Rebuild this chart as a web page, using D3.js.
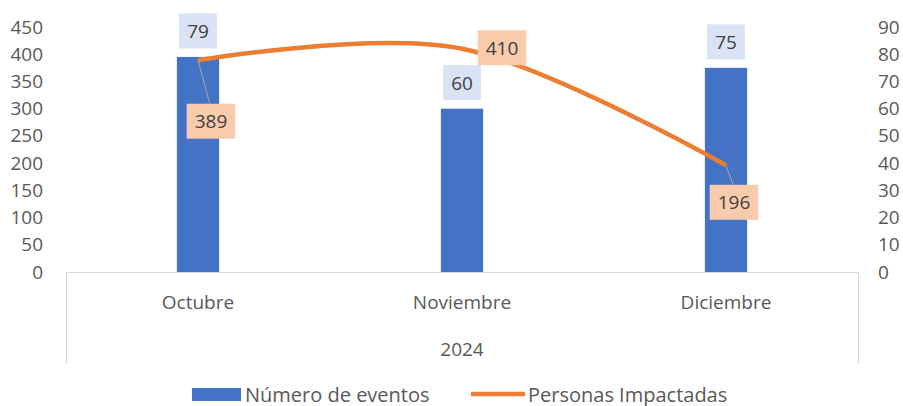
<!DOCTYPE html>
<html><head><meta charset="utf-8">
<script src="https://cdn.jsdelivr.net/npm/d3@7"></script>
<style>
html,body{margin:0;padding:0;background:#fff;}
svg{display:block;font-family:"Open Sans",sans-serif;}
</style></head>
<body><svg id="c" width="903" height="406"></svg>
<script>
const categories = ["Octubre", "Noviembre", "Diciembre"];
const groupLabel = "2024";
const eventos = [79, 60, 75];
const personas = [389, 410, 196];
const leftTicks = [0, 50, 100, 150, 200, 250, 300, 350, 400, 450];
const rightTicks = [0, 10, 20, 30, 40, 50, 60, 70, 80, 90];
const seriesNames = ["Número de eventos", "Personas Impactadas"];

const W = 903, H = 406;
const plot = {l: 66, r: 858, t: 27, b: 272};
const FS = 19;
const svg = d3.select("#c");

const x = d3.scaleBand().domain(categories).range([plot.l, plot.r]).paddingInner(0).paddingOuter(0);
const yL = d3.scaleLinear().domain([0, 450]).range([plot.b, plot.t]);
const yR = d3.scaleLinear().domain([0, 90]).range([plot.b, plot.t]);
const barW = x.bandwidth() * 0.16;
const cx = c => x(c) + x.bandwidth() / 2;

// axes
const axL = svg.append("g").attr("transform", `translate(${43},0)`)
  .call(d3.axisLeft(yL).tickValues(leftTicks).tickSize(0).tickPadding(0));
axL.select(".domain").remove();
axL.selectAll("text").attr("fill", "#595959").style("font-size", FS + "px").style("font-family", "Open Sans");

const axR = svg.append("g").attr("transform", `translate(${878},0)`)
  .call(d3.axisRight(yR).tickValues(rightTicks).tickSize(0).tickPadding(0));
axR.select(".domain").remove();
axR.selectAll("text").attr("fill", "#595959").style("font-size", FS + "px").style("font-family", "Open Sans");

// category frame
const grid = "#D9D9D9";
svg.append("line").attr("x1", plot.l).attr("x2", plot.r).attr("y1", plot.b + 0.5).attr("y2", plot.b + 0.5).attr("stroke", grid);
[plot.l, plot.r].forEach(xx => svg.append("line").attr("x1", xx + 0.5).attr("x2", xx + 0.5)
  .attr("y1", plot.b).attr("y2", 364).attr("stroke", grid));

svg.selectAll("text.cat").data(categories).join("text").attr("class", "cat")
  .attr("x", d => cx(d)).attr("y", 302).attr("text-anchor", "middle").attr("dominant-baseline", "central")
  .attr("fill", "#595959").style("font-size", FS + "px").text(d => d);
svg.append("text").attr("x", (plot.l + plot.r) / 2).attr("y", 349).attr("text-anchor", "middle")
  .attr("dominant-baseline", "central").attr("fill", "#595959").style("font-size", FS + "px").text(groupLabel);

// bars
svg.selectAll("rect.bar").data(eventos).join("rect").attr("class", "bar")
  .attr("x", (d, i) => cx(categories[i]) - barW / 2).attr("width", barW)
  .attr("y", d => yR(d)).attr("height", d => plot.b - yR(d)).attr("fill", "#4472C4");

// line
const pts = personas.map((d, i) => [cx(categories[i]), yL(d)]);
svg.append("path").attr("d", d3.line().curve(d3.curveCardinal.tension(0))(pts))
  .attr("fill", "none").attr("stroke", "#ED7D31").attr("stroke-width", 4.5);

// label helper
function labelBox(txt, bx, by, fill) {
  const g = svg.append("g");
  const t = g.append("text").attr("x", bx).attr("y", by).attr("text-anchor", "middle")
    .attr("dominant-baseline", "central").attr("fill", "#404040").style("font-size", FS + "px").text(txt);
  const w = t.node().getComputedTextLength() + 16;
  g.insert("rect", "text").attr("x", bx - w / 2).attr("y", by - 17.5).attr("width", w).attr("height", 35).attr("fill", fill);
  return w;
}
// bar labels
eventos.forEach((d, i) => labelBox(String(d), cx(categories[i]), yR(d) - 26, "#DAE3F3"));

// line labels (offsets from point)
const lineLabelOffsets = [[13, 61], [40, -1], [8, 37]];
personas.forEach((d, i) => {
  const [px, py] = pts[i];
  const [ox, oy] = lineLabelOffsets[i];
  if (oy > 20) {
    svg.append("line").attr("x1", px).attr("y1", py).attr("x2", px + ox * 0.9).attr("y2", py + oy - 17.5)
      .attr("stroke", "#A6A6A6").attr("stroke-width", 1);
  }
  labelBox(String(d), px + ox, py + oy, "#F8CBAD");
});

// legend
const ly = 394;
const LFS = 20;
svg.append("rect").attr("x", 192).attr("y", ly - 6).attr("width", 49).attr("height", 13).attr("fill", "#4472C4");
svg.append("text").attr("x", 245).attr("y", ly).attr("dominant-baseline", "central").attr("fill", "#595959")
  .style("font-size", LFS + "px").text(seriesNames[0]);
svg.append("line").attr("x1", 471).attr("x2", 525).attr("y1", ly).attr("y2", ly).attr("stroke", "#ED7D31").attr("stroke-width", 4.5);
svg.append("text").attr("x", 528).attr("y", ly).attr("dominant-baseline", "central").attr("fill", "#595959")
  .style("font-size", LFS + "px").text(seriesNames[1]);
</script></body></html>
